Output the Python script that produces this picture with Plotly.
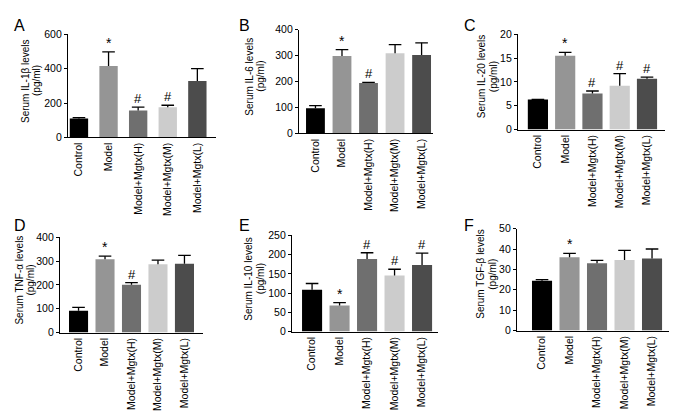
import plotly.graph_objects as go

W, H = 677, 416

categories = ["Control", "Model", "Model+Mgtx(H)", "Model+Mgtx(M)", "Model+Mgtx(L)"]
bar_colors = ["#000000", "#959595", "#6f6f6f", "#cccccc", "#4c4c4c"]

il1b_vals = [110, 416, 157, 176, 328]
il1b_err = [5, 82, 19, 11, 72]
il1b_marks = ["", "*", "#", "#", ""]

il6_vals = [97, 298, 194, 309, 302]
il6_err = [10, 25, 3, 33, 47]
il6_marks = ["", "*", "#", "", ""]

il20_vals = [6.3, 15.5, 7.6, 9.2, 10.7]
il20_err = [0.05, 0.7, 0.5, 2.55, 0.3]
il20_marks = ["", "*", "#", "#", "#"]

tnf_vals = [92, 308, 201, 287, 289]
tnf_err = [14, 13, 9, 17, 35]
tnf_marks = ["", "*", "#", "", ""]

il10_vals = [109, 68, 189, 146, 173]
il10_err = [16, 7, 16, 16, 31]
il10_marks = ["", "*", "#", "#", "#"]

tgf_vals = [24.5, 36, 33, 34.6, 35.4]
tgf_err = [0.5, 1.9, 1.4, 4.7, 4.6]
tgf_marks = ["", "*", "", "", ""]

panels = [
    dict(letter="A", title=["Serum IL-1β levels", "(pg/ml)"], vals=il1b_vals, err=il1b_err, marks=il1b_marks,
         yr=[0, 600], dt=200, xpx=[60, 208], ypx=[21, 127], xr=[-0.37, 4.63], bw=0.62,
         lpos=(4, 12), tx=(17, 28)),
    dict(letter="B", title=["Serum IL-6 levels", "(pg/ml)"], vals=il6_vals, err=il6_err, marks=il6_marks,
         yr=[0, 400], dt=100, xpx=[291, 425], ypx=[16, 123], xr=[-0.62, 4.43], bw=0.71,
         lpos=(229, 12), tx=(242, 253)),
    dict(letter="C", title=["Serum IL-20 levels", "(pg/ml)"], vals=il20_vals, err=il20_err, marks=il20_marks,
         yr=[0, 20], dt=5, xpx=[510, 657], ypx=[21, 119], xr=[-0.73, 4.66], bw=0.74,
         lpos=(454, 12), tx=(473, 485)),
    dict(letter="D", title=["Serum TNF-α levels", "(pg/ml)"], vals=tnf_vals, err=tnf_err, marks=tnf_marks,
         yr=[0, 400], dt=100, xpx=[52, 195], ypx=[230, 328], xr=[-0.7, 4.7], bw=0.72,
         lpos=(4, 218), tx=(11.5, 22.5)),
    dict(letter="E", title=["Serum IL-10 levels", "(pg/ml)"], vals=il10_vals, err=il10_err, marks=il10_marks,
         yr=[0, 250], dt=50, xpx=[284, 430], ypx=[228, 327], xr=[-0.73, 4.58], bw=0.73,
         lpos=(229, 218), tx=(241, 252.5)),
    dict(letter="F", title=["Serum TGF-β levels", "(pg/ml)"], vals=tgf_vals, err=tgf_err, marks=tgf_marks,
         yr=[0, 50], dt=10, xpx=[509, 663], ypx=[221, 326], xr=[-0.91, 4.69], bw=0.73,
         lpos=(454, 218), tx=(473, 485)),
]

FONT = "Liberation Sans, Arial, sans-serif"
fig = go.Figure()
annotations = []
layout = {}
xs = list(range(len(categories)))

for i, p in enumerate(panels):
    n = "" if i == 0 else str(i + 1)
    xa, ya = "x" + n, "y" + n
    fig.add_trace(go.Bar(
        x=xs, y=p["vals"], width=p["bw"], marker=dict(color=bar_colors, line=dict(width=0)),
        error_y=dict(type="data", array=p["err"], arrayminus=[0] * 5, symmetric=False,
                     color="#000000", thickness=1.3, width=0),
        xaxis=xa, yaxis=ya, showlegend=False, hoverinfo="skip",
    ))
    tops = [v + e for v, e in zip(p["vals"], p["err"])]
    fig.add_trace(go.Scatter(
        x=xs, y=tops, mode="markers", xaxis=xa, yaxis=ya, showlegend=False, hoverinfo="skip",
        marker=dict(symbol="line-ew", size=9, color="#000000", line=dict(color="#000000", width=1.3)),
    ))
    layout["xaxis" + n] = dict(
        domain=[p["xpx"][0] / W, p["xpx"][1] / W], range=p["xr"], anchor=ya,
        tickvals=xs, ticktext=categories, tickangle=-90, ticks="", showgrid=False,
        zeroline=False, showline=True, linecolor="#000000", linewidth=1.3,
        tickfont=dict(size=10.5, color="#000000", family=FONT), fixedrange=True,
    )
    layout["yaxis" + n] = dict(
        domain=[1 - p["ypx"][1] / H, 1 - p["ypx"][0] / H], range=p["yr"], anchor=xa,
        dtick=p["dt"], tick0=0, ticks="outside", ticklen=3, tickwidth=1.3, tickcolor="#000000",
        showgrid=False, zeroline=False, showline=True, linecolor="#000000", linewidth=1.3,
        tickfont=dict(size=10.5, color="#000000", family=FONT), fixedrange=True,
    )
    annotations.append(dict(
        text=p["letter"], x=p["lpos"][0] / W, y=1 - p["lpos"][1] / H, xref="paper", yref="paper",
        xanchor="left", yanchor="middle", showarrow=False,
        font=dict(size=16, color="#000000", family=FONT),
    ))
    ymid = 1 - ((p["ypx"][0] + p["ypx"][1]) / 2 - 5) / H
    for line, tx in zip(p["title"], p["tx"]):
        annotations.append(dict(
            text=line, x=tx / W, y=ymid,
            xref="paper", yref="paper", xanchor="center", yanchor="middle", textangle=-90,
            showarrow=False, font=dict(size=10, color="#000000", family=FONT),
        ))
    for j, m in enumerate(p["marks"]):
        if m:
            annotations.append(dict(
                text=m, x=xs[j], y=tops[j], xref=xa, yref=ya,
                xanchor="center", yanchor="bottom", yshift=-1, showarrow=False,
                font=dict(size=13 if m == "#" else 14, color="#000000", family=FONT),
            ))

fig.update_layout(
    width=W, height=H, margin=dict(l=0, r=0, t=0, b=0),
    paper_bgcolor="#ffffff", plot_bgcolor="#ffffff",
    annotations=annotations, **layout,
)
fig.write_html("out.html")
